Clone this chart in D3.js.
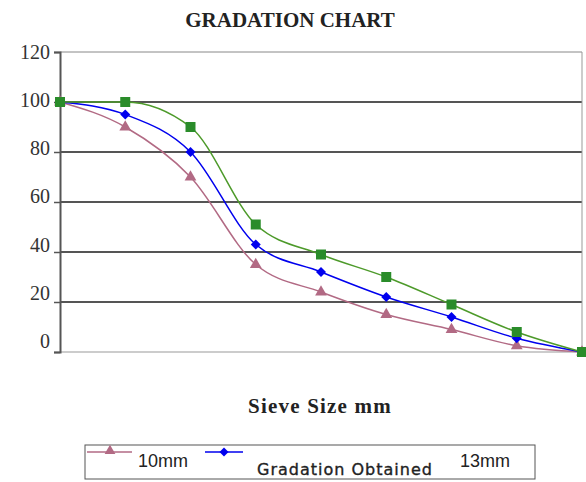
<!DOCTYPE html>
<html><head><meta charset="utf-8">
<script src="https://cdn.jsdelivr.net/npm/d3@7"></script>
<style>body{margin:0;background:#fff}svg{display:block}</style>
</head><body>
<svg id="c" width="586" height="482"></svg>
<script>
const sievePoints = [0,1,2,3,4,5,6,7,8];
const series10mm = [100,90,70,35,24,15,9,2.5,0];
const seriesObtained = [100,95,80,43,32,22,14,5.5,0];
const series13mm = [100,100,90,51,39,30,19,8,0];
const yTicks = [0,20,40,60,80,100,120];
const titleText = "GRADATION CHART";
const xTitle = "Sieve Size mm";
const legendNames = ["10mm","Gradation Obtained","13mm"];

const svg = d3.select("#c");
const x = d3.scaleLinear().domain([0,8]).range([60,582]);
const y = d3.scaleLinear().domain([0,120]).range([352,52]);
const serif = "'Liberation Serif','Times New Roman',serif";
const sans = "'Liberation Sans',Arial,sans-serif";

svg.append("text").attr("x",290).attr("y",27).attr("text-anchor","middle")
  .attr("font-family",serif).attr("font-weight","bold").attr("font-size",21).attr("fill","#222").text(titleText);

// grid
svg.append("g").selectAll("line").data(yTicks.filter(d=>d>0&&d<120)).join("line")
  .attr("x1",60).attr("x2",582).attr("y1",d=>y(d)).attr("y2",d=>y(d))
  .attr("stroke","#555").attr("stroke-width",2);
svg.append("line").attr("x1",60).attr("x2",582).attr("y1",y(120)).attr("y2",y(120)).attr("stroke","#888").attr("stroke-width",1);
svg.append("line").attr("x1",60).attr("x2",582).attr("y1",y(0)).attr("y2",y(0)).attr("stroke","#999").attr("stroke-width",1);
svg.append("line").attr("x1",582).attr("x2",582).attr("y1",y(120)).attr("y2",y(0)).attr("stroke","#999").attr("stroke-width",1);

// y axis
const ya = svg.append("g").attr("transform","translate(60,0)")
  .call(d3.axisLeft(y).tickValues(yTicks).tickSize(6).tickPadding(4));
ya.select(".domain").attr("stroke","#555").attr("stroke-width",2);
ya.selectAll(".tick line").attr("stroke","#555").attr("stroke-width",1.5);
ya.selectAll(".tick text").attr("font-family",serif).attr("font-size",20).attr("fill","#333")
  .attr("dy","0.32em").attr("transform",d=>`translate(0,${-11*(1-d/120)})`);

svg.append("text").attr("x",320).attr("y",413).attr("text-anchor","middle")
  .attr("font-family",serif).attr("font-weight","bold").attr("font-size",21).attr("letter-spacing",1.2).attr("fill","#222").text(xTitle);

const line = d3.line().x((d,i)=>x(sievePoints[i])).y(d=>y(d)).curve(d3.curveMonotoneX);
const defs = [
  {data:series10mm,color:"#b26a84",marker:"tri"},
  {data:seriesObtained,color:"#0000ee",marker:"dia"},
  {data:series13mm,color:"#4d9a2a",marker:"sq",mfill:"#2a8c2a"}
];
const sym = {tri:d3.symbolTriangle, dia:d3.symbolSquare, sq:d3.symbolSquare};
const size = {tri:60, dia:50, sq:100};
const rot = {tri:0, dia:45, sq:0};
defs.forEach(s=>{
  svg.append("path").datum(s.data).attr("d",line).attr("fill","none")
    .attr("stroke",s.color).attr("stroke-width",1.5);
});
defs.forEach(s=>{
  svg.append("g").selectAll("path").data(s.data).join("path")
    .attr("transform",(d,i)=>`translate(${x(sievePoints[i])},${y(d)}) rotate(${rot[s.marker]})`)
    .attr("d",d3.symbol().type(sym[s.marker]).size(size[s.marker]))
    .attr("fill",s.mfill||s.color);
});

// legend
const lg = svg.append("g");
lg.append("rect").attr("x",85).attr("y",445).attr("width",450).attr("height",34)
  .attr("fill","#fff").attr("stroke","#555").attr("stroke-width",1);
lg.append("line").attr("x1",87).attr("x2",132).attr("y1",452).attr("y2",452).attr("stroke",defs[0].color).attr("stroke-width",1.5);
lg.append("path").attr("transform","translate(110,451)").attr("d",d3.symbol().type(d3.symbolTriangle).size(50)).attr("fill",defs[0].color);
lg.append("text").attr("x",138).attr("y",467).attr("font-family",sans).attr("font-size",18).attr("fill","#222").text(legendNames[0]);
lg.append("line").attr("x1",205).attr("x2",243).attr("y1",452).attr("y2",452).attr("stroke",defs[1].color).attr("stroke-width",1.5);
lg.append("path").attr("transform","translate(224,452) rotate(45)").attr("d",d3.symbol().type(d3.symbolSquare).size(40)).attr("fill",defs[1].color);
lg.append("text").attr("x",257).attr("y",475).attr("font-family","'DejaVu Sans',Verdana,sans-serif").attr("font-size",16).attr("letter-spacing",1)
  .attr("fill","#222").attr("stroke","#222").attr("stroke-width",0.35).text(legendNames[1]);
lg.append("text").attr("x",460).attr("y",467).attr("font-family",sans).attr("font-size",18).attr("fill","#222").text(legendNames[2]);
</script>
</body></html>
